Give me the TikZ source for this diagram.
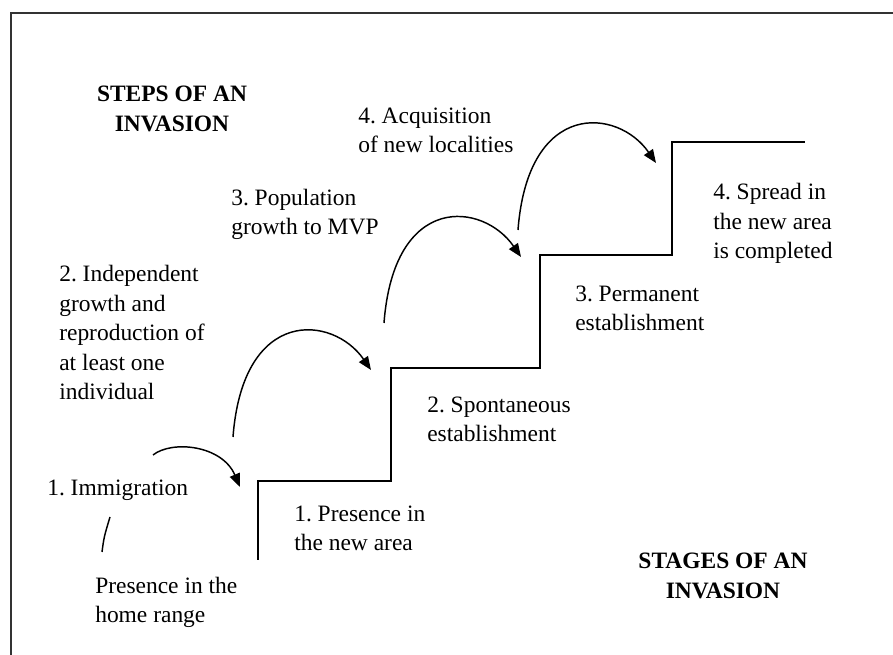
\documentclass[tikz,border=0pt]{standalone}
\usepackage{fontspec}
\setmainfont{Liberation Serif}
\usetikzlibrary{arrows.meta}
\frenchspacing
\begin{document}
\begin{tikzpicture}[x=0.75pt,y=-0.75pt,
  lbl/.style={font=\frenchspacing\fontsize{17.6}{22.2}\selectfont, align=left, anchor=base west, inner sep=0pt},
  ttl/.style={font=\fontsize{17.6}{22.8}\selectfont\bfseries, align=center, anchor=base, inner sep=0pt},
  stair/.style={line width=1.2pt, line join=miter},
  jump/.style={line width=1.1pt, -{Triangle[length=10pt,width=8pt]}},
  frame/.style={line width=1.5pt, draw=black!80}
]
\useasboundingbox (0,0) rectangle (893,655);
% frame
\coordinate (fbl) at (11,655);
\coordinate (ftl) at (11,13);
\coordinate (ftr) at (893,13);
\draw[frame] (fbl) -- (ftl) -- (ftr);

% staircase
\coordinate (s0) at (258,560);
\coordinate (s1) at (258,481);
\coordinate (s2) at (391,481);
\coordinate (s3) at (391,368);
\coordinate (s4) at (540,368);
\coordinate (s5) at (540,255);
\coordinate (s6) at (672,255);
\coordinate (s7) at (672,142);
\coordinate (s8) at (805,142);
\draw[stair] (s0) -- (s1) -- (s2) -- (s3) -- (s4) -- (s5) -- (s6) -- (s7) -- (s8);

% titles (coordinates give the baseline of the last line)
\node[ttl] (steps) at (172,132) {STEPS OF AN\\INVASION};
\node[ttl] (stages) at (723,599) {STAGES OF AN\\INVASION};

% step labels
\node[lbl] (t4) at (358,153) {4. Acquisition\\of new localities};
\node[lbl] (t3) at (231,235) {3. Population\\growth to MVP};
\node[lbl] (t2) at (59,400) {2. Independent\\growth and\\reproduction of\\at least one\\individual};
\node[lbl] (t1) at (47,496) {1. Immigration};
\node[lbl] (home) at (95,623) {Presence in the\\home range};

% stage labels
\node[lbl] (g1) at (294,551) {1. Presence in\\the new area};
\node[lbl] (g2) at (427,442) {2. Spontaneous\\establishment};
\node[lbl] (g3) at (575,331) {3. Permanent\\establishment};
\node[lbl] (g4) at (713,259) {4. Spread in\\the new area\\is completed};

% jumps
\coordinate (a0) at (102,552);
\coordinate (a0e) at (110,517);
\draw[line width=1.1pt] (a0) .. controls (104,537) .. (a0e);

\coordinate (aS) at (153,455);
\coordinate (aE) at (240,487);
\draw[jump] (aS) .. controls (172,440) and (222,445) .. (aE);

\coordinate (bS) at (233,437);
\coordinate (bE) at (371,370);
\draw[jump] (bS) .. controls (243,306) and (333,315) .. (bE);

\coordinate (cS) at (384,323);
\coordinate (cE) at (521,257);
\draw[jump] (cS) .. controls (394,192) and (483,202) .. (cE);

\coordinate (dS) at (518,230);
\coordinate (dE) at (656,163);
\draw[jump] (dS) .. controls (528,99) and (618,108) .. (dE);
\end{tikzpicture}
\end{document}
